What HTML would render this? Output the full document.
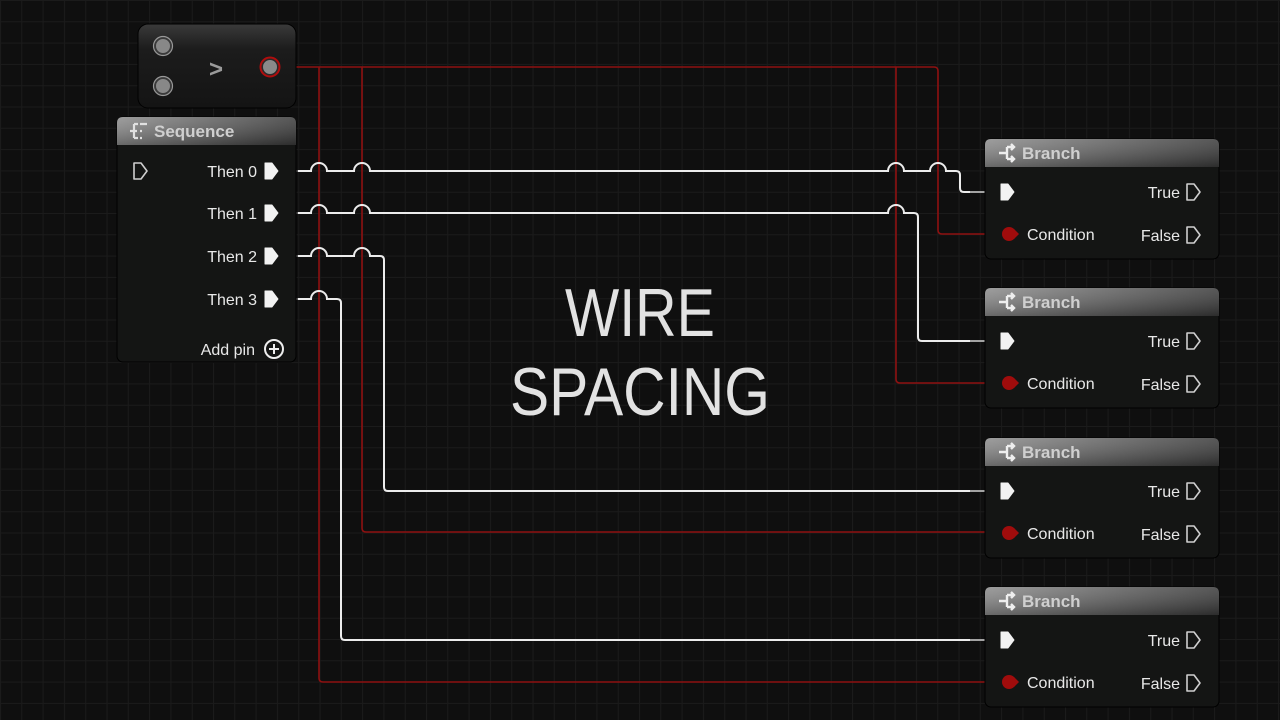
<!DOCTYPE html>
<html><head><meta charset="utf-8"><style>
html,body{margin:0;padding:0;background:#0f0f0f;}
svg{display:block}
text{font-family:"Liberation Sans",sans-serif;}
</style></head><body>
<svg width="1280" height="720" viewBox="0 0 1280 720" xmlns="http://www.w3.org/2000/svg">
<defs>
<pattern id="g" width="21.3" height="21.3" patternUnits="userSpaceOnUse">
<path d="M0 0.5H21.3M0.5 0V21.3" stroke="#1b1b1b" stroke-width="1"/>
</pattern>
<linearGradient id="hd" x1="0" y1="0" x2="1" y2="0">
<stop offset="0" stop-color="#8c8c8c"/><stop offset="0.6" stop-color="#5a5a5a"/><stop offset="1" stop-color="#3a3a3a"/>
</linearGradient>
<linearGradient id="hdv" x1="0" y1="0" x2="0" y2="1">
<stop offset="0" stop-color="#ffffff" stop-opacity="0.15"/><stop offset="1" stop-color="#000" stop-opacity="0.25"/>
</linearGradient>
<linearGradient id="cmp" x1="0" y1="0" x2="0" y2="1">
<stop offset="0" stop-color="#3a3a3a"/><stop offset="0.3" stop-color="#1c1c1c"/><stop offset="1" stop-color="#141414"/>
</linearGradient>
<g id="exo"><path d="M-6 -8 L1 -8 L7 0 L1 8 L-6 8 Z" fill="none" stroke="#cfcfcf" stroke-width="1.6" stroke-linejoin="round"/></g>
<g id="exf"><path d="M-6 -8 L1 -8 L7 0 L1 8 L-6 8 Z" fill="#f2f2f2" stroke="#f2f2f2" stroke-width="1" stroke-linejoin="round"/></g>
<g id="branch">
<rect x="0" y="0" width="234" height="120" rx="6" fill="#141514" stroke="#000" stroke-width="1"/>
<path d="M0 28 V6 Q0 0 6 0 H228 Q234 0 234 6 V28 Z" fill="url(#hd)"/>
<path d="M0 28 V6 Q0 0 6 0 H228 Q234 0 234 6 V28 Z" fill="url(#hdv)"/>
<path d="M14 14 H22 M22 8 V20 M22 8 H28 M22 20 H28 M26 5 L29 8 L26 11 M26 17 L29 20 L26 23" stroke="#eee" stroke-width="2.4" fill="none"/>
<text x="37" y="20" font-size="17" font-weight="bold" fill="#cfcfcf">Branch</text>
<use href="#exf" x="22" y="53"/>
<text x="195" y="59" font-size="16" fill="#e8e8e8" text-anchor="end">True</text>
<use href="#exo" x="208" y="53"/>
<circle cx="24" cy="95" r="7" fill="#a00c0c"/><path d="M29 90 L34 95 L29 100Z" fill="#a00c0c"/>
<text x="42" y="101" font-size="16" fill="#e8e8e8">Condition</text>
<text x="195" y="102" font-size="16" fill="#e8e8e8" text-anchor="end">False</text>
<use href="#exo" x="208" y="96"/>
</g>
</defs>
<rect width="1280" height="720" fill="#0f0f0f"/>
<rect width="1280" height="720" fill="url(#g)"/>

<text x="565" y="336" font-size="68" fill="#e2e2e2" textLength="150" lengthAdjust="spacingAndGlyphs">WIRE</text>
<text x="510" y="415" font-size="68" fill="#e2e2e2" textLength="260" lengthAdjust="spacingAndGlyphs">SPACING</text>

<!-- red wires -->
<g stroke="#8e1010" stroke-width="1.6" fill="none">
<path d="M280 67 L934 67 Q938 67 938 71 L938 230 Q938 234 942 234 L1000 234"/>
<path d="M896 67 L896 379 Q896 383 900 383 L1000 383"/>
<path d="M362 67 L362 528 Q362 532 366 532 L1000 532"/>
<path d="M319 67 L319 678 Q319 682 323 682 L1000 682"/>
</g>
<!-- white wires -->
<g stroke="#ececec" stroke-width="2" fill="none">
<path d="M298 171 L311 171 A8 8 0 0 1 327 171 L354 171 A8 8 0 0 1 370 171 L888 171 A8 8 0 0 1 904 171 L930 171 A8 8 0 0 1 946 171 L956 171 Q960 171 960 175 L960 188 Q960 192 964 192 L988 192"/>
<path d="M298 213 L311 213 A8 8 0 0 1 327 213 L354 213 A8 8 0 0 1 370 213 L888 213 A8 8 0 0 1 904 213 L914 213 Q918 213 918 217 L918 337 Q918 341 922 341 L988 341"/>
<path d="M298 256 L311 256 A8 8 0 0 1 327 256 L354 256 A8 8 0 0 1 370 256 L380 256 Q384 256 384 260 L384 487 Q384 491 388 491 L988 491"/>
<path d="M298 299 L311 299 A8 8 0 0 1 327 299 L337 299 Q341 299 341 303 L341 636 Q341 640 345 640 L988 640"/>
</g>
<g stroke="#777" stroke-width="1.2">
<path d="M281 171H298M281 213H298M281 256H298M281 299H298M970 192H988M970 341H988M970 491H988M970 640H988"/>
</g>

<!-- compare node -->
<rect x="138" y="24" width="158" height="84" rx="10" fill="url(#cmp)" stroke="#000"/>
<circle cx="163" cy="46" r="8" fill="#888" stroke="#3a3a3a" stroke-width="2"/><circle cx="163" cy="46" r="9.5" fill="none" stroke="#999" stroke-width="1.2"/>
<circle cx="163" cy="86" r="8" fill="#888" stroke="#3a3a3a" stroke-width="2"/><circle cx="163" cy="86" r="9.5" fill="none" stroke="#999" stroke-width="1.2"/>
<text x="216" y="77" font-size="24" font-weight="bold" fill="#9a9a9a" text-anchor="middle">&gt;</text>
<circle cx="270" cy="67" r="8" fill="#8a8a8a" stroke="#2a2a2a" stroke-width="2"/><circle cx="270" cy="67" r="9.5" fill="none" stroke="#b00d0d" stroke-width="2"/>

<!-- sequence node -->
<rect x="117" y="117" width="179" height="245" rx="6" fill="#141514" stroke="#000"/>
<path d="M117 145 V123 Q117 117 123 117 H290 Q296 117 296 123 V145 Z" fill="url(#hd)"/>
<path d="M117 145 V123 Q117 117 123 117 H290 Q296 117 296 123 V145 Z" fill="url(#hdv)"/>
<path d="M130 131 H137 M134 124 V138 M134 124 H138 M134 138 H138 M140 124H147 M140 131H142 M140 138H142" stroke="#e0e0e0" stroke-width="2.2" fill="none"/>
<text x="154" y="137" font-size="17" font-weight="bold" fill="#cfcfcf">Sequence</text>
<use href="#exo" x="140" y="171"/>
<g font-size="16" fill="#e8e8e8" text-anchor="end">
<text x="257" y="177">Then 0</text>
<text x="257" y="219">Then 1</text>
<text x="257" y="262">Then 2</text>
<text x="257" y="305">Then 3</text>
<text x="255" y="355">Add pin</text>
</g>
<use href="#exf" x="271" y="171"/>
<use href="#exf" x="271" y="213"/>
<use href="#exf" x="271" y="256"/>
<use href="#exf" x="271" y="299"/>
<circle cx="274" cy="349" r="9" fill="none" stroke="#eee" stroke-width="2"/>
<path d="M269 349H279M274 344V354" stroke="#eee" stroke-width="2"/>

<use href="#branch" x="985" y="139"/>
<use href="#branch" x="985" y="288"/>
<use href="#branch" x="985" y="438"/>
<use href="#branch" x="985" y="587"/>
</svg>
</body></html>
